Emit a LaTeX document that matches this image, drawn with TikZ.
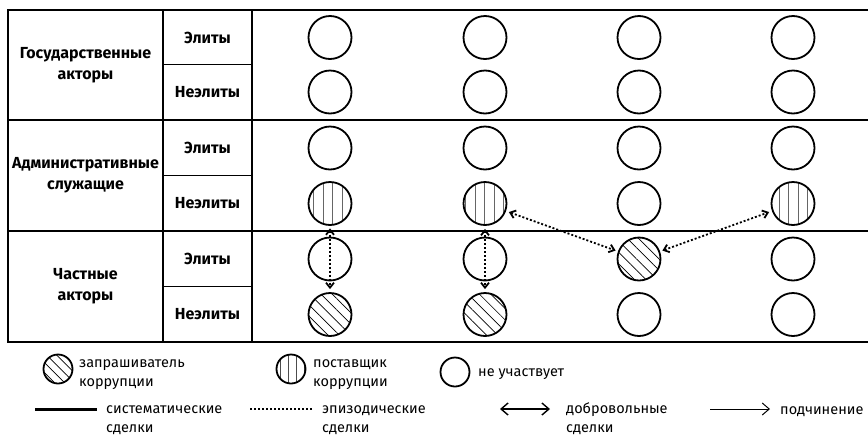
\documentclass[tikz,border=0pt]{standalone}
\usepackage{fontspec}
\setmainfont{Fira Sans}
\usetikzlibrary{arrows.meta,patterns.meta}

\begin{document}
\begin{tikzpicture}[
    x=1pt, y=-1pt,
    grid/.style={line width=1.8pt, line cap=rect},
    actor/.style={font=\fontsize{16}{21}\selectfont\bfseries, align=center, inner sep=0pt},
    level/.style={font=\fontsize{16}{21}\selectfont\bfseries, inner sep=0pt},
    idle/.style={circle, draw, line width=1.8pt, minimum size=43pt, inner sep=0pt},
    supplier/.style={idle, pattern={Lines[angle=90, distance=9.5pt, line width=0.8pt]}, pattern color=black!60},
    requester/.style={idle, pattern={Lines[angle=-45, distance=8pt, line width=0.7pt]}},
    smallidle/.style={circle, draw, line width=1.8pt, minimum size=29pt, inner sep=0pt},
    smallsup/.style={smallidle, pattern={Lines[angle=90, distance=8pt, line width=0.8pt]}, pattern color=black!70},
    smallreq/.style={smallidle, pattern={Lines[angle=-45, distance=7pt, line width=0.7pt]}},
    legend/.style={font=\fontsize{14.5}{19}\selectfont, align=left, inner sep=0pt},
    episodic/.style={{Straight Barb[length=5pt, width=8pt]}-{Straight Barb[length=5pt, width=8pt]}, line width=1.8pt, dash pattern=on 2pt off 2pt, shorten <=3pt, shorten >=3pt}
]
\useasboundingbox (0,0) rectangle (868,437);

% Table grid
\foreach \y in {10,120,231,342}
    \draw[grid] (8,\y) -- (868,\y);
\foreach \y in {64.5,175.5,286.5}
    \draw[grid] (163,\y) -- (252,\y);
\foreach \x in {8,163,252}
    \draw[grid] (\x,10) -- (\x,342);

% Actors
\node[actor] (gos) at (85.5,65) {Государственные\\акторы};
\node[actor] (adm) at (85.5,175.5) {Административные\\служащие};
\node[actor] (pri) at (85.5,286.5) {Частные\\акторы};

% Levels
\foreach \y/\t [count=\i] in {37.5/Элиты, 92/Неэлиты, 148/Элиты, 203.5/Неэлиты, 259/Элиты, 314.5/Неэлиты}
    \node[level] (lvl\i) at (207.5,\y) {\t};

% Circles
\foreach \y/\ka/\kb/\kc/\kd [count=\r] in {37.5/idle/idle/idle/idle, 92/idle/idle/idle/idle, 148/idle/idle/idle/idle, 203.5/supplier/supplier/idle/supplier, 259/idle/idle/requester/idle, 314.5/requester/requester/idle/idle}{
    \node[\ka] (c\r-1) at (330,\y) {};
    \node[\kb] (c\r-2) at (485,\y) {};
    \node[\kc] (c\r-3) at (639,\y) {};
    \node[\kd] (c\r-4) at (793,\y) {};
}

% Episodic deals
\draw[episodic] (c4-1) -- (c6-1);
\draw[episodic] (c4-2) -- (c6-2);
\draw[episodic] (c4-2) -- (c5-3);
\draw[episodic] (c5-3) -- (c4-4);

% Legend: circles
\node[smallreq] (lreq) at (58,369) {};
\node[legend, anchor=base west] (lreqtxt) at (79,386) {запрашиватель\\коррупции};
\node[smallsup] (lsup) at (291,369) {};
\node[legend, anchor=base west] (lsuptxt) at (313,386) {поставщик\\коррупции};
\node[smallidle] (lidle) at (455,372) {};
\node[legend, anchor=base west] (lidletxt) at (478,376) {не участвует};

% Legend: lines
\coordinate (sysA) at (35,409);
\coordinate (sysB) at (97,409);
\draw[line width=3pt] (sysA) -- (sysB);
\node[legend, anchor=base west] (systxt) at (106,432) {систематические\\сделки};
\coordinate (epiA) at (250,409);
\coordinate (epiB) at (312,409);
\draw[line width=1.8pt, dash pattern=on 2pt off 2pt] (epiA) -- (epiB);
\node[legend, anchor=base west] (epitxt) at (322,432) {эпизодические\\сделки};
\coordinate (volA) at (500,409);
\coordinate (volB) at (550,409);
\draw[{Straight Barb[length=7pt, width=12pt]}-{Straight Barb[length=7pt, width=12pt]}, line width=1.4pt] (volA) -- (volB);
\node[legend, anchor=base west] (voltxt) at (566,432) {добровольные\\сделки};
\coordinate (subA) at (710,409);
\coordinate (subB) at (770,409);
\draw[-{Straight Barb[length=7pt, width=12pt]}, line width=1pt] (subA) -- (subB);
\node[legend, anchor=base west] (subtxt) at (780,414) {подчинение};

\end{tikzpicture}
\end{document}
